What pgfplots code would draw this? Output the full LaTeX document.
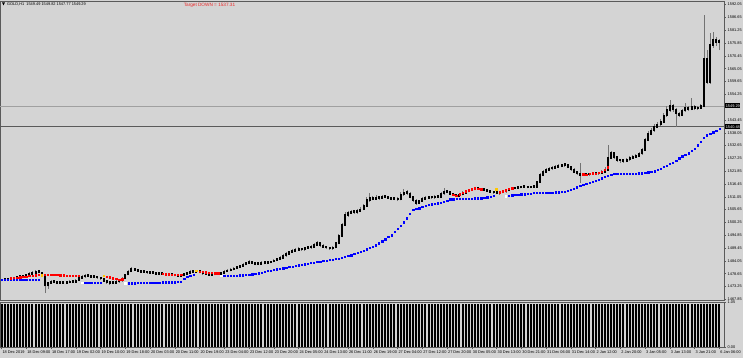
\documentclass[border=0pt]{standalone}
\usepackage{fontspec}
\setmainfont{Liberation Sans}
\usepackage{pgfplots}
\usepackage{pgfplotstable}
\pgfplotsset{compat=1.18}
\definecolor{bg}{RGB}{212,212,212}
\definecolor{axc}{RGB}{90,90,90}
\definecolor{wick}{RGB}{115,115,115}
\definecolor{mtblue}{RGB}{0,0,255}
\definecolor{mtred}{RGB}{255,0,0}
\definecolor{mtyel}{RGB}{255,200,0}
\definecolor{lvl}{RGB}{160,160,160}
\definecolor{tgt}{RGB}{235,40,40}

\pgfplotstableread{
i o h l c v
0 1475.8 1476.5 1475.5 1476.0 1
1 1476.0 1476.7 1475.7 1476.3 1
2 1476.3 1476.6 1475.8 1476.1 1
3 1476.1 1476.9 1475.9 1476.5 1
4 1476.5 1477.3 1476.2 1476.9 1
5 1476.9 1477.7 1476.6 1477.3 1
6 1477.3 1478.3 1477.0 1477.8 1
7 1477.8 1478.2 1477.1 1477.5 1
8 1477.5 1478.7 1477.2 1478.2 1
9 1478.2 1479.2 1477.9 1478.6 1
10 1478.6 1479.6 1478.3 1479.0 1
11 1479.0 1480.3 1478.7 1479.6 1
12 1479.6 1480.1 1478.8 1479.2 1
13 1479.2 1479.5 1477.6 1478.2 1
14 1478.2 1478.6 1470.5 1473.6 1
15 1473.6 1475.3 1472.2 1474.8 1
16 1474.8 1475.9 1474.4 1475.3 1
17 1475.3 1475.8 1474.6 1475.0 1
18 1475.0 1475.4 1474.1 1474.6 1
19 1474.6 1475.7 1474.3 1475.2 1
20 1475.2 1475.5 1474.2 1474.7 1
21 1474.7 1475.4 1474.3 1474.9 1
22 1474.9 1475.9 1474.6 1475.4 1
23 1475.4 1475.8 1474.7 1475.1 1
24 1475.1 1476.3 1474.8 1475.8 1
25 1475.8 1477.4 1475.5 1476.9 1
26 1476.9 1477.9 1476.5 1477.4 1
27 1477.4 1478.5 1477.0 1477.9 1
28 1477.9 1478.3 1477.2 1477.6 1
29 1477.6 1477.9 1476.8 1477.2 1
30 1477.2 1478.0 1476.9 1477.5 1
31 1477.5 1477.8 1476.6 1477.0 1
32 1477.0 1477.4 1476.1 1476.6 1
33 1476.6 1476.9 1475.2 1475.6 1
34 1475.6 1476.0 1474.5 1475.1 1
35 1475.1 1475.5 1474.0 1474.6 1
36 1474.6 1475.3 1474.1 1474.8 1
37 1474.8 1475.8 1474.4 1475.3 1
38 1475.3 1476.2 1474.9 1475.7 1
39 1475.7 1477.1 1475.3 1476.6 1
40 1476.6 1478.7 1476.3 1478.2 1
41 1478.2 1480.2 1477.9 1479.6 1
42 1479.6 1481.5 1479.3 1480.7 1
43 1480.7 1481.1 1479.7 1480.2 1
44 1480.2 1480.6 1479.3 1479.8 1
45 1479.8 1480.2 1478.9 1479.3 1
46 1479.3 1480.1 1479.0 1479.6 1
47 1479.6 1479.9 1478.7 1479.1 1
48 1479.1 1479.5 1478.4 1478.9 1
49 1478.9 1479.7 1478.6 1479.2 1
50 1479.2 1479.5 1478.2 1478.6 1
51 1478.6 1479.0 1478.0 1478.4 1
52 1478.4 1479.2 1478.1 1478.7 1
53 1478.7 1479.0 1477.8 1478.2 1
54 1478.2 1478.6 1477.6 1478.0 1
55 1478.0 1478.8 1477.7 1478.3 1
56 1478.3 1478.6 1477.5 1477.9 1
57 1477.9 1478.2 1477.2 1477.6 1
58 1477.6 1478.3 1477.3 1477.8 1
59 1477.8 1479.1 1477.5 1478.6 1
60 1478.6 1479.5 1478.3 1479.0 1
61 1479.0 1480.0 1478.7 1479.5 1
62 1479.5 1480.0 1478.9 1479.3 1
63 1479.3 1480.4 1479.0 1479.9 1
64 1479.9 1480.2 1478.8 1479.2 1
65 1479.2 1479.5 1478.3 1478.7 1
66 1478.7 1479.0 1478.0 1478.4 1
67 1478.4 1478.7 1477.6 1478.0 1
68 1478.0 1478.7 1477.7 1478.2 1
69 1478.2 1479.1 1477.9 1478.6 1
70 1478.6 1479.0 1478.1 1478.5 1
71 1478.5 1479.5 1478.2 1479.0 1
72 1479.0 1480.1 1478.7 1479.6 1
73 1479.6 1480.5 1479.3 1479.9 1
74 1479.9 1480.9 1479.6 1480.3 1
75 1480.3 1481.4 1480.0 1480.9 1
76 1480.9 1482.0 1480.6 1481.4 1
77 1481.4 1482.5 1481.1 1481.9 1
78 1481.9 1483.1 1481.6 1482.5 1
79 1482.5 1483.7 1482.2 1483.1 1
80 1483.1 1484.3 1482.8 1483.6 1
81 1483.6 1484.0 1482.7 1483.1 1
82 1483.1 1483.4 1482.2 1482.6 1
83 1482.6 1483.3 1482.2 1482.8 1
84 1482.8 1483.8 1482.5 1483.3 1
85 1483.3 1483.7 1482.6 1483.0 1
86 1483.0 1483.9 1482.7 1483.4 1
87 1483.4 1484.2 1483.1 1483.7 1
88 1483.7 1484.8 1483.4 1484.3 1
89 1484.3 1485.4 1484.0 1484.8 1
90 1484.8 1485.9 1484.5 1485.3 1
91 1485.3 1486.8 1485.0 1486.2 1
92 1486.2 1487.6 1485.8 1487.0 1
93 1487.0 1488.4 1486.7 1487.8 1
94 1487.8 1488.9 1487.4 1488.3 1
95 1488.3 1489.3 1487.9 1488.7 1
96 1488.7 1489.8 1488.3 1489.1 1
97 1489.1 1489.6 1488.3 1488.8 1
98 1488.8 1490.0 1488.4 1489.4 1
99 1489.4 1490.3 1489.0 1489.7 1
100 1489.7 1490.6 1489.2 1489.9 1
101 1489.9 1491.5 1489.5 1490.8 1
102 1490.8 1492.5 1490.4 1491.6 1
103 1491.6 1492.0 1490.1 1490.6 1
104 1490.6 1491.0 1489.4 1489.9 1
105 1489.9 1490.3 1489.0 1489.6 1
106 1489.6 1490.0 1488.6 1489.2 1
107 1489.2 1490.2 1488.8 1489.6 1
108 1489.6 1492.2 1489.3 1491.5 1
109 1491.5 1495.3 1491.0 1494.5 1
110 1494.5 1500.0 1494.0 1499.2 1
111 1499.2 1504.5 1498.6 1503.4 1
112 1503.4 1505.2 1502.7 1504.2 1
113 1504.2 1505.6 1503.6 1504.8 1
114 1504.8 1505.4 1503.9 1504.5 1
115 1504.5 1505.9 1504.0 1505.1 1
116 1505.1 1506.6 1504.6 1505.8 1
117 1505.8 1508.0 1505.3 1507.2 1
118 1507.2 1510.8 1506.8 1509.7 1
119 1509.7 1512.5 1509.0 1510.6 1
120 1510.6 1511.4 1509.6 1510.2 1
121 1510.2 1511.7 1509.7 1510.8 1
122 1510.8 1511.5 1509.9 1510.5 1
123 1510.5 1511.9 1510.0 1511.1 1
124 1511.1 1511.8 1510.4 1511.0 1
125 1511.0 1511.5 1510.1 1510.6 1
126 1510.6 1511.1 1509.6 1510.1 1
127 1510.1 1511.0 1509.6 1510.4 1
128 1510.4 1510.8 1509.2 1509.8 1
129 1509.8 1512.9 1509.5 1512.0 1
130 1512.0 1514.2 1511.6 1512.9 1
131 1512.9 1513.8 1511.9 1512.5 1
132 1512.5 1512.9 1510.4 1511.0 1
133 1511.0 1511.4 1508.9 1509.6 1
134 1509.6 1510.0 1507.7 1508.5 1
135 1508.5 1509.9 1508.0 1509.3 1
136 1509.3 1510.8 1508.9 1510.1 1
137 1510.1 1511.3 1509.7 1510.6 1
138 1510.6 1511.6 1510.2 1511.0 1
139 1511.0 1511.4 1510.2 1510.7 1
140 1510.7 1511.8 1510.3 1511.2 1
141 1511.2 1511.7 1510.5 1511.0 1
142 1511.0 1513.0 1510.7 1512.4 1
143 1512.4 1514.6 1512.0 1513.2 1
144 1513.2 1513.8 1512.5 1513.0 1
145 1513.0 1513.4 1511.8 1512.3 1
146 1512.3 1512.7 1511.2 1511.8 1
147 1511.8 1512.2 1510.9 1511.4 1
148 1511.4 1512.6 1511.0 1512.0 1
149 1512.0 1513.3 1511.7 1512.7 1
150 1512.7 1513.9 1512.4 1513.3 1
151 1513.3 1514.5 1513.0 1513.9 1
152 1513.9 1514.7 1513.5 1514.1 1
153 1514.1 1515.0 1513.8 1514.4 1
154 1514.4 1514.9 1513.9 1514.3 1
155 1514.3 1514.8 1513.6 1514.0 1
156 1514.0 1514.5 1513.4 1513.9 1
157 1513.9 1514.2 1513.0 1513.5 1
158 1513.5 1513.9 1512.6 1513.1 1
159 1513.1 1513.6 1512.4 1512.9 1
160 1512.9 1513.5 1512.1 1512.7 1
161 1512.7 1513.5 1511.9 1512.9 1
162 1512.9 1513.9 1512.5 1513.2 1
163 1513.2 1514.3 1512.8 1513.7 1
164 1513.7 1514.9 1513.3 1514.3 1
165 1514.3 1515.2 1514.0 1514.6 1
166 1514.6 1515.3 1514.3 1514.8 1
167 1514.8 1515.4 1514.4 1514.9 1
168 1514.9 1515.6 1514.6 1515.1 1
169 1515.1 1515.7 1514.7 1515.2 1
170 1515.2 1515.6 1514.6 1515.0 1
171 1515.0 1515.8 1514.7 1515.3 1
172 1515.3 1515.8 1514.8 1515.2 1
173 1515.2 1517.9 1514.9 1517.3 1
174 1517.3 1521.0 1516.9 1520.2 1
175 1520.2 1522.5 1519.7 1521.6 1
176 1521.6 1523.3 1521.0 1522.4 1
177 1522.4 1523.7 1521.9 1522.9 1
178 1522.9 1524.0 1522.3 1523.2 1
179 1523.2 1524.5 1522.8 1523.7 1
180 1523.7 1524.8 1523.2 1524.0 1
181 1524.0 1525.0 1523.5 1524.3 1
182 1524.3 1525.3 1523.8 1524.5 1
183 1524.5 1524.9 1523.0 1523.6 1
184 1523.6 1524.0 1522.0 1522.6 1
185 1522.6 1523.0 1520.9 1521.5 1
186 1521.5 1521.9 1520.2 1520.8 1
187 1520.8 1525.3 1516.9 1520.3 1
188 1520.3 1521.3 1519.8 1520.7 1
189 1520.7 1521.2 1520.0 1520.5 1
190 1520.5 1521.3 1520.0 1520.7 1
191 1520.7 1521.6 1520.3 1521.0 1
192 1521.0 1521.5 1520.3 1520.8 1
193 1520.8 1521.7 1520.4 1521.1 1
194 1521.1 1522.3 1520.7 1521.6 1
195 1521.6 1523.8 1521.2 1522.4 1
196 1522.4 1533.0 1522.0 1527.4 1
197 1527.4 1530.5 1526.8 1529.5 1
198 1529.5 1530.0 1527.1 1527.8 1
199 1527.8 1528.3 1525.9 1526.6 1
200 1526.6 1527.2 1525.5 1526.4 1
201 1526.4 1527.0 1525.4 1526.1 1
202 1526.1 1527.5 1525.6 1526.8 1
203 1526.8 1528.1 1526.3 1527.4 1
204 1527.4 1528.6 1527.0 1527.9 1
205 1527.9 1529.0 1527.4 1528.3 1
206 1528.3 1530.0 1527.8 1529.2 1
207 1529.2 1531.7 1528.8 1530.8 1
208 1530.8 1536.0 1530.3 1535.0 1
209 1535.0 1538.8 1534.4 1537.6 1
210 1537.6 1540.2 1536.9 1539.1 1
211 1539.1 1541.6 1538.5 1540.5 1
212 1540.5 1542.7 1539.9 1541.6 1
213 1541.6 1543.8 1541.0 1542.6 1
214 1542.6 1546.4 1542.0 1545.3 1
215 1545.3 1549.2 1544.7 1547.6 1
216 1547.6 1551.9 1546.9 1549.3 1
217 1549.3 1550.0 1546.8 1547.8 1
218 1547.8 1548.3 1540.5 1546.2 1
219 1546.2 1547.0 1544.6 1545.5 1
220 1545.5 1548.2 1545.0 1547.4 1
221 1547.4 1550.5 1546.9 1548.5 1
222 1548.5 1549.2 1547.3 1548.0 1
223 1548.0 1552.6 1547.5 1548.9 1
224 1548.9 1549.6 1547.6 1548.3 1
225 1548.3 1549.3 1547.8 1548.5 1
226 1548.5 1550.2 1548.0 1549.3 1
227 1549.3 1587.7 1548.8 1569.3 1
228 1569.3 1573.0 1558.5 1559.5 1
229 1559.5 1580.3 1558.8 1575.0 1
230 1575.0 1580.4 1573.8 1577.2 1
231 1577.2 1578.4 1574.8 1576.3 1
232 1576.3 1577.6 1572.9 1576.6 1
}\candles

\pgfplotstableread{
i p
0 1476.0
1 1476.0
2 1476.0
3 1476.0
4 1476.0
5 1476.0
6 1476.0
7 1476.0
8 1476.0
9 1476.0
10 1476.0
11 1476.0
12 1476.0
27 1474.8
28 1474.8
29 1474.8
30 1474.8
31 1474.8
32 1474.8
41 1474.7
42 1474.7
43 1474.7
44 1474.8
45 1474.8
46 1474.8
47 1474.8
48 1474.9
49 1474.9
50 1474.9
51 1474.9
52 1475.0
53 1475.0
54 1475.0
55 1475.1
56 1475.1
57 1475.2
58 1475.2
59 1476.5
60 1477.3
61 1477.9
62 1478.1
72 1477.7
73 1477.8
74 1477.8
75 1477.9
76 1477.9
77 1478.0
78 1478.0
79 1478.1
80 1478.1
81 1478.4
82 1478.7
83 1478.9
84 1479.2
85 1479.5
86 1479.8
87 1480.0
88 1480.3
89 1480.5
90 1480.8
91 1481.0
92 1481.2
93 1481.5
94 1481.7
95 1482.0
96 1482.2
97 1482.5
98 1482.7
99 1482.9
100 1483.2
101 1483.4
102 1483.6
103 1483.8
104 1484.0
105 1484.2
106 1484.4
107 1484.6
108 1484.9
109 1485.1
110 1485.3
111 1485.7
112 1486.1
113 1486.5
114 1487.0
115 1487.4
116 1487.8
117 1488.4
118 1489.0
119 1489.5
120 1490.1
121 1490.7
122 1491.5
123 1492.4
124 1493.2
125 1494.1
126 1494.9
127 1496.3
128 1497.6
129 1499.0
130 1500.4
131 1502.1
132 1503.8
133 1505.5
134 1505.9
135 1506.3
136 1506.8
137 1507.2
138 1507.6
139 1507.9
140 1508.1
141 1508.4
142 1508.6
143 1508.9
144 1509.5
145 1510.1
146 1510.1
147 1510.2
148 1510.2
149 1510.3
150 1510.3
151 1510.4
152 1510.4
153 1510.5
154 1510.5
155 1510.5
156 1510.6
157 1510.9
158 1511.2
159 1511.5
164 1511.5
165 1511.7
166 1511.8
167 1511.9
168 1512.1
169 1512.2
170 1512.4
171 1512.5
172 1512.7
173 1512.7
174 1512.8
175 1512.8
176 1512.8
177 1512.9
178 1512.9
179 1513.0
180 1513.0
181 1513.1
182 1513.1
183 1513.6
184 1514.1
185 1514.6
186 1515.1
187 1515.6
188 1516.1
189 1516.5
190 1517.0
191 1517.4
192 1517.9
193 1518.4
194 1518.9
195 1519.4
196 1519.9
197 1520.5
198 1520.7
199 1520.7
200 1520.8
201 1520.8
202 1520.8
203 1520.9
204 1520.9
205 1520.9
206 1521.0
207 1521.0
208 1521.1
209 1521.4
210 1521.7
211 1521.9
212 1522.5
213 1523.0
214 1523.6
215 1524.2
216 1524.9
217 1525.5
218 1526.4
219 1527.3
220 1528.2
221 1528.7
222 1529.5
223 1530.4
224 1531.3
225 1532.8
226 1534.3
227 1536.0
228 1537.0
229 1537.6
230 1538.3
231 1539.0
232 1539.7
}\bluedots

\pgfplotstableread{
i p
3 1476.7
4 1476.9
5 1477.0
6 1477.2
7 1477.4
8 1477.5
9 1477.7
10 1477.8
11 1478.0
12 1478.1
14 1478.1
15 1478.1
16 1478.1
17 1478.1
18 1478.1
19 1478.0
20 1478.0
21 1477.9
22 1477.9
23 1477.9
24 1477.9
25 1477.9
34 1477.4
35 1477.1
36 1476.8
37 1476.5
38 1476.2
39 1476.3
52 1478.6
53 1478.5
54 1478.4
55 1478.3
56 1478.2
57 1478.1
58 1478.1
64 1479.6
65 1479.4
66 1479.3
67 1479.1
68 1479.0
69 1478.9
70 1478.8
146 1511.9
147 1511.6
148 1512.1
149 1512.8
150 1513.4
151 1513.9
152 1514.3
153 1514.6
154 1514.5
155 1514.2
161 1513.0
162 1513.4
163 1513.9
164 1514.4
165 1514.7
188 1520.6
189 1520.5
190 1520.7
191 1521.0
192 1520.9
193 1521.2
194 1521.6
195 1522.4
196 1523.5
}\reddots

\pgfplotstableread{
i p
13 1478.1
33 1477.8
63 1479.9
160 1514.3
}\yeldots

\pgfplotstableread{
i p
26 1474.85
40 1474.7
71 1477.8
163 1511.4
}\whitedots

\newcommand{\tickfont}{\fontsize{3.9}{4.2}\selectfont}

\begin{document}
\begin{tikzpicture}
\useasboundingbox (0bp,0bp) rectangle (743bp,358bp);
\fill[bg] (0bp,0bp) rectangle (743bp,358bp);

% main price window
\begin{axis}[
  at={(0bp,58bp)}, anchor=south west,
  scale only axis, width=724bp, height=299bp,
  xmin=-0.5, xmax=233.5, ymin=1467.56, ymax=1593.59,
  axis background/.style={fill=bg},
  axis line style={axc, line width=0.8bp},
  xtick=\empty,
  ytick={1467.85,1473.25,1478.65,1484.05,1489.45,1494.85,1500.25,1505.65,1511.05,1516.45,1521.85,1527.25,1532.65,1538.05,1543.45,1548.85,1554.25,1559.65,1565.05,1570.45,1575.85,1581.25,1586.65,1592.05},
  yticklabels={1467.85,1473.25,1478.65,1484.05,1489.45,1494.85,1500.25,1505.65,1511.05,1516.45,1521.85,1527.25,1532.65,1538.05,1543.45,,1554.25,1559.65,1565.05,1570.45,1575.85,1581.25,1586.65,1592.05},
  ytick pos=right, yticklabel pos=right,
  tick align=outside, major tick length=2bp,
  tick style={axc, line width=0.5bp},
  yticklabel style={font=\tickfont, inner sep=0pt, xshift=1.5bp, text=black},
  clip=true,
]
% level lines
\addplot[lvl, line width=0.6bp, forget plot] coordinates {(-0.5,1549.29) (233.5,1549.29)};
\addplot[axc, line width=1bp, forget plot] coordinates {(-0.5,1540.48) (233.5,1540.48)};
% wicks
\addplot[forget plot, draw=none, mark=none,
  error bars/.cd, y dir=plus, y explicit, error mark=none,
  error bar style={draw=wick, line width=0.7bp}]
  table[x=i, y=l, y error plus expr=\thisrow{h}-\thisrow{l}] {\candles};
% bodies
\addplot[forget plot, draw=none, mark=none,
  error bars/.cd, y dir=plus, y explicit, error mark=none,
  error bar style={draw=black, line width=2bp}]
  table[x=i, y expr={min(\thisrow{o},\thisrow{c})-0.3}, y error plus expr={max(abs(\thisrow{c}-\thisrow{o}),0.5)+0.6}] {\candles};
% indicator dots
\addplot[only marks, mark=square*, mark size=0.65bp, color=mtblue] table[x=i, y=p] {\bluedots};
\addplot[only marks, mark=square*, mark size=0.7bp, color=mtred] table[x=i, y=p] {\reddots};
\addplot[only marks, mark=square*, mark size=0.9bp, color=mtyel] table[x=i, y=p] {\yeldots};
\addplot[only marks, mark=square*, mark size=0.75bp, color=white] table[x=i, y=p] {\whitedots};
\end{axis}

% indicator window
\begin{axis}[
  at={(0bp,11bp)}, anchor=south west,
  scale only axis, width=724bp, height=45bp,
  xmin=-0.5, xmax=233.5, ymin=0, ymax=1.05,
  axis background/.style={fill=bg},
  axis line style={axc, line width=0.8bp},
  xtick={0,8,16,24,32,40,48,56,64,72,80,88,96,104,112,120,128,136,144,152,160,168,176,184,192,200,208,216,224,232},
  xticklabels={18 Dec 2019,18 Dec 09:00,18 Dec 17:00,19 Dec 02:00,19 Dec 10:00,19 Dec 18:00,20 Dec 03:00,20 Dec 11:00,20 Dec 19:00,23 Dec 04:00,23 Dec 12:00,23 Dec 20:00,24 Dec 05:00,24 Dec 13:00,26 Dec 11:00,26 Dec 19:00,27 Dec 04:00,27 Dec 12:00,27 Dec 20:00,30 Dec 05:00,30 Dec 13:00,30 Dec 21:00,31 Dec 06:00,31 Dec 14:00,2 Jan 12:00,2 Jan 20:00,3 Jan 05:00,3 Jan 13:00,3 Jan 21:00,6 Jan 06:00},
  xtick pos=bottom, xticklabel pos=bottom,
  xticklabel style={font=\tickfont, anchor=north west, inner sep=0pt, xshift=0.8bp, yshift=-1.6bp, text=black},
  ytick={0,1.05}, yticklabels={0.00,1.05},
  ytick pos=right, yticklabel pos=right,
  yticklabel style={font=\tickfont, inner sep=0pt, xshift=1.5bp, text=black},
  tick align=outside, major tick length=2bp,
  tick style={axc, line width=0.5bp},
  clip=true,
]
\addplot[ycomb, black, line width=2bp, mark=none] table[x=i, y=v] {\candles};
\end{axis}

% price labels on the scale
\node[fill=black, text=white, font=\tickfont, inner sep=0.6bp, anchor=west, minimum height=5bp] at (725bp,252bp) {1549.29};
\node[fill=black, text=white, font=\tickfont, inner sep=0.6bp, anchor=west, minimum height=5bp] at (725bp,231bp) {1540.48};

% header texts
\fill[black] (2bp,355.5bp) -- (5bp,355.5bp) -- (3.5bp,352.5bp) -- cycle;
\node[anchor=west, font=\tickfont, inner sep=0pt] at (7bp,354bp) {GOLD,H1\ \ 1549.49 1549.82 1547.77 1549.29};
\node[font=\fontsize{4.7}{5}\selectfont, text=tgt, inner sep=0pt] at (209.5bp,353bp) {Target DOWN = 1537.31};
\end{tikzpicture}
\end{document}
